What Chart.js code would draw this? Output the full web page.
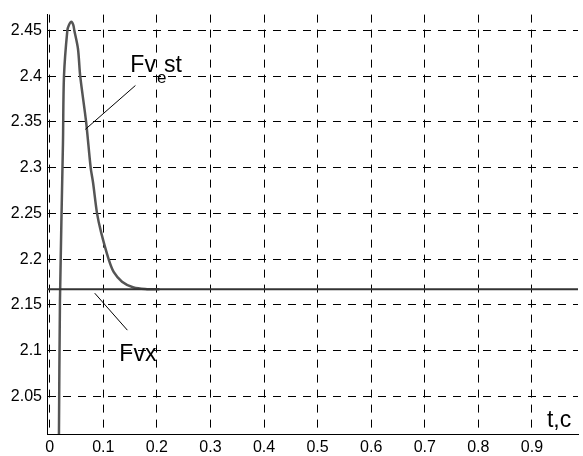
<!DOCTYPE html>
<html>
<head>
<meta charset="utf-8">
<script src="https://cdn.jsdelivr.net/npm/chart.js@4/dist/chart.umd.min.js"></script>
<style>
html,body{margin:0;padding:0;background:#fff;}
#wrap{width:583px;height:456px;}
</style>
</head>
<body>
<div id="wrap"><canvas id="c" width="583" height="456"></canvas></div>
<script>
// time (s) and Fv_est values
const estT = [0.0168, 0.0172, 0.0192, 0.0248, 0.0267, 0.033, 0.036, 0.0405, 0.044, 0.046, 0.0528, 0.057, 0.068, 0.0765, 0.081, 0.0884, 0.0959, 0.110, 0.1194, 0.135, 0.1567, 0.1817, 0.205];
const estV = [1.99, 2.0, 2.155, 2.327, 2.40, 2.45, 2.456, 2.4595, 2.456, 2.45, 2.43, 2.40, 2.35, 2.30, 2.2835, 2.25, 2.2295, 2.20, 2.186, 2.1754, 2.169, 2.1672, 2.167];
const fvxValue = 2.167;
const xMin = -0.005, xMax = 0.986;
const yMin = 2.0089, yMax = 2.4673;
const xTicks = [0, 0.1, 0.2, 0.3, 0.4, 0.5, 0.6, 0.7, 0.8, 0.9];
const yTicks = [2.05, 2.1, 2.15, 2.2, 2.25, 2.3, 2.35, 2.4, 2.45];
const xTickLabels = ['0', '0.1', '0.2', '0.3', '0.4', '0.5', '0.6', '0.7', '0.8', '0.9'];
const yTickLabels = ['2.05', '2.1', '2.15', '2.2', '2.25', '2.3', '2.35', '2.4', '2.45'];
// annotation anchors in data units
const estLabel = {x: 0.1506, y: 2.4043};
const estLeader = [{x: 0.160, y: 2.3898}, {x: 0.0666, y: 2.3419}];
const fvxLabel = {x: 0.130, y: 2.0889};
const fvxLeader = [{x: 0.0841, y: 2.1628}, {x: 0.145, y: 2.1224}];
const axisLabel = {text: 't,c', x: 0.928, y: 2.0168};

const FONT = '"Liberation Sans", Arial, Helvetica, sans-serif';

const annot = {
  id: 'annot',
  afterDatasetsDraw(chart) {
    const {ctx, scales: {x, y}} = chart;
    ctx.save();
    ctx.strokeStyle = '#000';
    ctx.lineWidth = 1;
    [estLeader, fvxLeader].forEach(l => {
      ctx.beginPath();
      ctx.moveTo(x.getPixelForValue(l[0].x), y.getPixelForValue(l[0].y));
      ctx.lineTo(x.getPixelForValue(l[1].x), y.getPixelForValue(l[1].y));
      ctx.stroke();
    });
    ctx.fillStyle = '#000';
    ctx.textBaseline = 'alphabetic';
    ctx.textAlign = 'left';
    // Fv_e st
    let px = x.getPixelForValue(estLabel.x), py = y.getPixelForValue(estLabel.y);
    ctx.font = '23px ' + FONT;
    ctx.fillText('Fv', px, py);
    const w1 = ctx.measureText('Fv').width;
    ctx.font = '17px ' + FONT;
    ctx.fillText('e', px + w1 + 1, py + 11);
    ctx.font = '23px ' + FONT;
    ctx.fillText('st', px + w1 + 8, py);
    // Fvx
    ctx.font = '23px ' + FONT;
    ctx.fillText('Fvx', x.getPixelForValue(fvxLabel.x), y.getPixelForValue(fvxLabel.y));
    // axis label
    ctx.font = '23px ' + FONT;
    ctx.fillText(axisLabel.text, x.getPixelForValue(axisLabel.x), y.getPixelForValue(axisLabel.y));
    ctx.restore();
  }
};

new Chart(document.getElementById('c'), {
  type: 'line',
  data: {
    datasets: [
      {
        label: 'Fvx',
        data: [{x: xMin, y: fvxValue}, {x: xMax, y: fvxValue}],
        borderColor: '#333333',
        borderWidth: 2,
        pointRadius: 0,
        tension: 0
      },
      {
        label: 'Fv_est',
        data: estT.map((t, i) => ({x: t, y: estV[i]})),
        borderColor: '#555555',
        borderWidth: 2.5,
        pointRadius: 0,
        tension: 0.3
      }
    ]
  },
  options: {
    responsive: false,
    animation: false,
    events: [],
    layout: {padding: {top: 10, right: 5, left: 0, bottom: 0}},
    plugins: {legend: {display: false}, tooltip: {enabled: false}},
    scales: {
      x: {
        type: 'linear',
        min: xMin, max: xMax,
        afterBuildTicks(s) { s.ticks = xTicks.map(v => ({value: v})); },
        afterFit(s) { s.height = 22; },
        ticks: {
          color: '#000',
          font: {family: FONT, size: 16},
          padding: 4,
          maxRotation: 0,
          autoSkip: false,
          callback: (v, i) => xTickLabels[i]
        },
        grid: {color: '#000', lineWidth: 1, drawTicks: false},
        border: {display: true, color: '#000', width: 1, dash: [8, 7]}
      },
      y: {
        type: 'linear',
        min: yMin, max: yMax,
        afterBuildTicks(s) { s.ticks = yTicks.map(v => ({value: v})); },
        afterFit(s) { s.width = 47; },
        ticks: {
          color: '#000',
          font: {family: FONT, size: 16},
          padding: 5,
          autoSkip: false,
          callback: (v, i) => yTickLabels[i]
        },
        grid: {color: '#000', lineWidth: 1, drawTicks: false},
        border: {display: true, color: '#000', width: 1, dash: [8, 7]}
      }
    }
  },
  plugins: [annot]
});
</script>
</body>
</html>
